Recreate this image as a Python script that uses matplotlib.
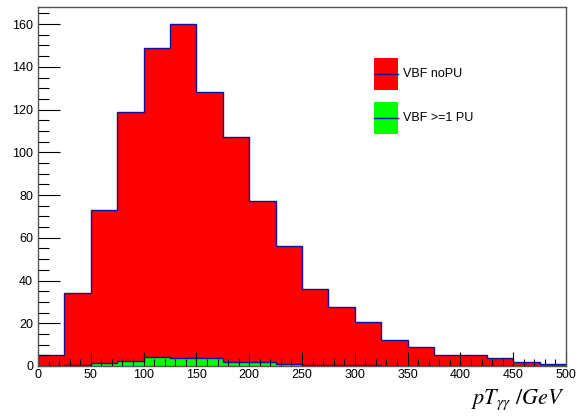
"""pT of the diphoton system: VBF without pileup vs VBF with >=1 PU vertex."""

import numpy as np
import matplotlib
matplotlib.use("Agg")
import matplotlib.pyplot as plt
from matplotlib.patches import Rectangle
from matplotlib.lines import Line2D
from matplotlib.ticker import MultipleLocator

plt.rcParams['font.family'] = ['Liberation Sans', 'DejaVu Sans']
plt.rcParams['mathtext.fontset'] = 'stix'

# ===============================
# Data (bin edges 0..500, width 25)
# ===============================
bin_edges = np.arange(0, 525, 25)
vbf_nopu = [5, 34, 73, 119, 149, 160, 128, 107, 77, 56,
            36, 27.5, 20.5, 12, 9, 5, 5.3, 3.8, 2, 0.8]
vbf_pu = [0, 0.5, 1.6, 2.4, 4.4, 3.8, 3.8, 1.9, 1.9, 0.8,
          0.3, 0.3, 0.3, 0, 0, 0, 0, 0, 0, 0]
labels = ['VBF noPU', 'VBF >=1 PU']


def draw_hist(ax, edges, values, fill, z):
    """ROOT-like filled histogram with a thin blue outline."""
    ax.stairs(values, edges, fill=True, color=fill, zorder=z)
    ax.stairs(values, edges, color='#1010a0', linewidth=1.0, zorder=z + 0.1)


fig = plt.figure(figsize=(5.79, 4.16), dpi=100)
ax = fig.add_axes([38/579, 50/416, 528/579, 359/416])

draw_hist(ax, bin_edges, vbf_nopu, '#ff0000', 1.0)
draw_hist(ax, bin_edges, vbf_pu, '#00ff00', 1.5)
ax.set_axisbelow(False)

ax.set_xlim(0, 500)
ax.set_ylim(0, 168)
ax.xaxis.set_major_locator(MultipleLocator(50))
ax.xaxis.set_minor_locator(MultipleLocator(10))
ax.yaxis.set_major_locator(MultipleLocator(20))
ax.yaxis.set_minor_locator(MultipleLocator(5))
ax.tick_params(which='both', direction='in', top=False, right=False,
               labelsize=9, color='black', width=0.8)
ax.tick_params(axis='y', which='major', length=16)
ax.tick_params(axis='y', which='minor', length=8)
ax.tick_params(axis='x', which='major', length=10)
ax.tick_params(axis='x', which='minor', length=5)
ax.tick_params(axis='x', pad=2)
for s in ax.spines.values():
    s.set_color('#555555')
    s.set_linewidth(1.0)
    s.set_zorder(5)

# Legend (drawn by hand, ROOT style)
for i, (lab, col) in enumerate(zip(labels, ['#ff0000', '#00ff00'])):
    y0 = 0.769 - i * 0.123
    ax.add_patch(Rectangle((0.637, y0), 0.045, 0.089, transform=ax.transAxes,
                           facecolor=col, edgecolor='none', zorder=6))
    ax.add_line(Line2D([0.637, 0.682], [y0 + 0.0445, y0 + 0.0445],
                       transform=ax.transAxes, color='#1010a0', lw=1.0, zorder=7))
    ax.text(0.692, y0 + 0.0445, lab, transform=ax.transAxes, fontsize=9,
            va='center', ha='left', zorder=7)

fig.text(565/579, 4/416, r'$pT_{\gamma\gamma}\ /GeV$', ha='right', va='bottom',
         fontsize=16)

plt.savefig('out.png', dpi=100)
plt.close()
